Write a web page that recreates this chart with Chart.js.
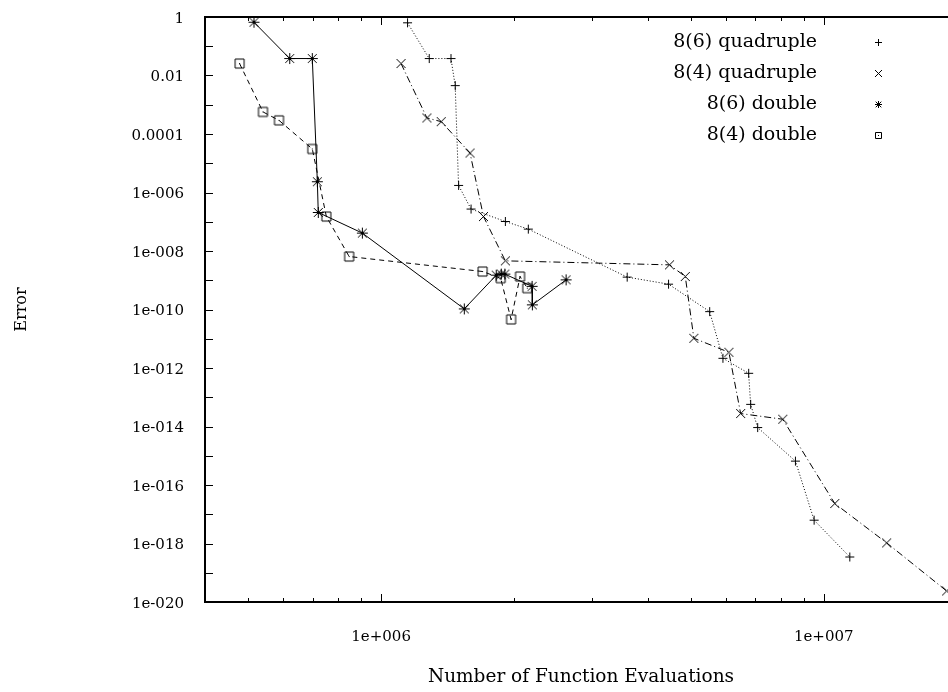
<!DOCTYPE html>
<html>
<head>
<meta charset="utf-8">
<script src="https://cdn.jsdelivr.net/npm/chart.js@4.4.1/dist/chart.umd.min.js"></script>
<style>
  html, body { margin: 0; padding: 0; background: #fff; overflow: hidden; }
  #wrap { width: 948px; height: 692px; overflow: hidden; }
</style>
</head>
<body>
<div id="wrap"><canvas id="myChart" width="960" height="692"></canvas></div>
<script>
// function evaluations (x) and error (y) for each run
var evals86Quad = [1147000, 1284000, 1438000, 1470000, 1496000, 1596000, 1908000, 2150000, 3596000, 4460000,
                   5523000, 5918000, 6765000, 6836000, 7090000, 8630000, 9510000, 11450000]
var err86Quad = [0.633, 0.038, 0.038, 4.52e-3, 1.75e-6, 2.72e-7, 1.02e-7, 5.61e-8, 1.28e-9, 7.35e-10,
                 8.47e-11, 2.15e-12, 6.59e-13, 5.73e-14, 9.2e-15, 6.56e-16, 6.27e-18, 3.47e-19]

var evals84Quad = [1109000, 1269000, 1367000, 1588000, 1703000, 1908000, 4483000, 4866000, 5088000, 6105000,
                   6490000, 8080000, 10590000, 13870000, 18950000]
var err84Quad = [0.0256, 3.54e-4, 2.64e-4, 2.24e-5, 1.51e-7, 4.61e-9, 3.36e-9, 1.34e-9, 1.04e-11, 3.45e-12,
                 2.77e-14, 1.77e-14, 2.33e-17, 1.05e-18, 2.38e-20]

var evals86Double = [516000, 621500, 699000, 717600, 721000, 907000, 1541000, 1820000, 1868000, 1903000,
                     2193000, 2196000, 2617000]
var err86Double = [0.664, 0.038, 0.038, 2.34e-6, 2.08e-7, 4.09e-8, 1.05e-10, 1.49e-9, 1.62e-9, 1.62e-9,
                   6.18e-10, 1.44e-10, 1.03e-9]

var evals84Double = [478800, 540800, 587700, 699000, 752000, 846700, 1695000, 1862000, 1966000, 2060000, 2139000]
var err84Double = [0.0256, 5.69e-4, 2.93e-4, 3.08e-5, 1.51e-7, 6.47e-9, 1.99e-9, 1.18e-9, 4.58e-11, 1.34e-9, 5.36e-10]

var seriesNames = ['8(6) quadruple', '8(4) quadruple', '8(6) double', '8(4) double']

// axis ticks
var xTickValues = [1e6, 1e7]
var xTickLabels = ['1e+006', '1e+007']
var yTickValues = [1, 1e-2, 1e-4, 1e-6, 1e-8, 1e-10, 1e-12, 1e-14, 1e-16, 1e-18, 1e-20]
var yTickLabels = ['1', '0.01', '0.0001', '1e-006', '1e-008', '1e-010', '1e-012', '1e-014', '1e-016', '1e-018', '1e-020']

var FONT = 'DejaVu Serif'

// small point symbols, drawn on their own canvases
function makeSymbol(kind, r) {
    var s = Math.ceil(r) * 2 + 3
    var c = document.createElement('canvas')
    c.width = s; c.height = s
    var g = c.getContext('2d')
    var m = s / 2
    g.strokeStyle = '#000'
    g.lineWidth = 1
    g.beginPath()
    if (kind == 'plus' || kind == 'star') {
        g.moveTo(m - r, m); g.lineTo(m + r, m)
        g.moveTo(m, m - r); g.lineTo(m, m + r)
    }
    if (kind == 'cross' || kind == 'star') {
        var d = kind == 'star' ? r * 0.8 : r
        g.moveTo(m - d, m - d); g.lineTo(m + d, m + d)
        g.moveTo(m - d, m + d); g.lineTo(m + d, m - d)
    }
    if (kind == 'box') {
        g.rect(m - r, m - r, r * 2, r * 2)
    }
    g.stroke()
    if (kind == 'box') {
        g.fillStyle = '#000'
        g.fillRect(m - 0.5, m - 0.5, 1, 1)
    }
    return c
}

var plotSymbols = [makeSymbol('plus', 4.5), makeSymbol('cross', 4.5), makeSymbol('star', 5.5), makeSymbol('box', 4.5)]
var keySymbols = [makeSymbol('plus', 3.5), makeSymbol('cross', 3.5), makeSymbol('star', 3.5), makeSymbol('box', 3)]

function points(xs, ys) {
    var out = []
    for (var i in xs) {
        out.push({x: xs[i], y: ys[i]})
    }
    return out
}

// border, inward tick marks and the key
var framePlugin = {
    id: 'frame',
    afterDatasetsDraw: function (chart) {
        var ctx = chart.ctx
        var a = chart.chartArea
        var xs = chart.scales.x
        var ys = chart.scales.y
        ctx.save()
        ctx.strokeStyle = '#000'

        ctx.lineWidth = 1
        ctx.beginPath()
        // y ticks every decade
        for (var e = 0; e >= -20; e--) {
            var py = Math.round(ys.getPixelForValue(Math.pow(10, e))) + 0.5
            ctx.moveTo(a.left, py); ctx.lineTo(a.left + 8, py)
            ctx.moveTo(a.right, py); ctx.lineTo(a.right - 8, py)
        }
        // x ticks: decades long, the rest short
        for (var k = 5; k <= 7; k++) {
            for (var m = 1; m <= 9; m++) {
                var v = m * Math.pow(10, k)
                if (v < xs.min || v > xs.max) continue
                var px = Math.round(xs.getPixelForValue(v)) + 0.5
                var len = m == 1 ? 8 : 4
                ctx.moveTo(px, a.bottom); ctx.lineTo(px, a.bottom - len)
                ctx.moveTo(px, a.top); ctx.lineTo(px, a.top + len)
            }
        }
        ctx.stroke()

        ctx.lineWidth = 2
        ctx.beginPath()
        ctx.moveTo(a.left, a.top); ctx.lineTo(a.right, a.top)
        ctx.lineTo(a.right, a.bottom); ctx.lineTo(a.left, a.bottom)
        ctx.closePath()
        ctx.stroke()

        // key in the top right corner
        ctx.font = '19px "' + FONT + '"'
        ctx.fillStyle = '#000'
        ctx.textAlign = 'right'
        ctx.textBaseline = 'middle'
        chart.data.datasets.forEach(function (ds, i) {
            var ky = 42 + 31 * i
            ctx.fillText(ds.label, 817, ky)
            var sym = keySymbols[i]
            ctx.drawImage(sym, Math.round(878 - sym.width / 2), Math.round(ky - sym.height / 2))
        })
        ctx.restore()
    }
}

var ctx = document.getElementById('myChart').getContext('2d')
var chart = new Chart(ctx, {
    type: 'line',
    data: {
        datasets: [{
            label: seriesNames[0],
            data: points(evals86Quad, err86Quad),
            borderColor: '#000',
            borderWidth: 1,
            borderDash: [1, 2],
            pointStyle: plotSymbols[0]
        }, {
            label: seriesNames[1],
            data: points(evals84Quad, err84Quad),
            borderColor: '#000',
            borderWidth: 1,
            borderDash: [7, 3, 1, 3],
            pointStyle: plotSymbols[1]
        }, {
            label: seriesNames[2],
            data: points(evals86Double, err86Double),
            borderColor: '#000',
            borderWidth: 1,
            pointStyle: plotSymbols[2]
        }, {
            label: seriesNames[3],
            data: points(evals84Double, err84Double),
            borderColor: '#000',
            borderWidth: 1,
            borderDash: [5, 4],
            pointStyle: plotSymbols[3]
        }]
    },
    options: {
        responsive: false,
        animation: false,
        tension: 0,
        layout: {autoPadding: false, padding: {top: 17, right: 3, left: 0, bottom: 0}},
        plugins: {
            legend: {display: false},
            tooltip: {enabled: false}
        },
        scales: {
            x: {
                type: 'logarithmic',
                min: 4e5,
                max: 2e7,
                grid: {display: false, drawTicks: false},
                border: {display: false},
                afterBuildTicks: function (s) {
                    s.ticks = xTickValues.map(function (v) { return {value: v} })
                },
                afterFit: function (s) {
                    s.height = 90
                    s.paddingLeft = 0
                    s.paddingRight = 0
                },
                ticks: {
                    autoSkip: false,
                    maxRotation: 0,
                    padding: 26,
                    color: '#000',
                    font: {family: FONT, size: 15},
                    callback: function (v, i) { return xTickLabels[i] }
                },
                title: {
                    display: true,
                    text: 'Number of Function Evaluations',
                    color: '#000',
                    font: {family: FONT, size: 18.5},
                    padding: {bottom: 4}
                }
            },
            y: {
                type: 'logarithmic',
                min: 1e-20,
                max: 1,
                grid: {display: false, drawTicks: false},
                border: {display: false},
                afterBuildTicks: function (s) {
                    s.ticks = yTickValues.map(function (v) { return {value: v} })
                },
                afterFit: function (s) {
                    s.width = 205
                    s.paddingTop = 0
                    s.paddingBottom = 0
                },
                ticks: {
                    autoSkip: false,
                    padding: 21,
                    labelOffset: 2,
                    color: '#000',
                    font: {family: FONT, size: 15},
                    callback: function (v, i) { return yTickLabels[i] }
                },
                title: {
                    display: true,
                    text: 'Error',
                    color: '#000',
                    font: {family: FONT, size: 16},
                    padding: {top: 12}
                }
            }
        }
    },
    plugins: [framePlugin]
})
</script>
</body>
</html>
